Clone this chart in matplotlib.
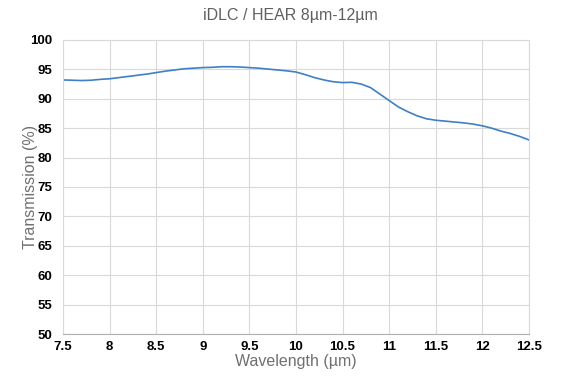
import matplotlib
matplotlib.use("Agg")
from matplotlib import pyplot as plt

wavelength = [7.5, 7.6, 7.7, 7.8, 7.9, 8.0, 8.1, 8.2, 8.3, 8.4, 8.5, 8.6, 8.7, 8.8, 8.9,
              9.0, 9.1, 9.2, 9.3, 9.4, 9.5, 9.6, 9.7, 9.8, 9.9, 10.0, 10.1, 10.2, 10.3,
              10.4, 10.5, 10.6, 10.7, 10.8, 10.9, 11.0, 11.1, 11.2, 11.3, 11.4, 11.5,
              11.6, 11.7, 11.8, 11.9, 12.0, 12.1, 12.2, 12.3, 12.4, 12.5]
transmission = [93.2, 93.15, 93.1, 93.15, 93.3, 93.4, 93.6, 93.8, 94.0, 94.2, 94.45, 94.7,
                94.9, 95.1, 95.2, 95.3, 95.35, 95.45, 95.45, 95.4, 95.3, 95.2, 95.05, 94.9,
                94.75, 94.55, 94.1, 93.6, 93.2, 92.9, 92.75, 92.8, 92.5, 91.9, 90.8, 89.7,
                88.6, 87.8, 87.1, 86.6, 86.35, 86.2, 86.05, 85.9, 85.7, 85.4, 85.0, 84.5,
                84.1, 83.6, 83.0]
xticks = [7.5, 8, 8.5, 9, 9.5, 10, 10.5, 11, 11.5, 12, 12.5]
xtick_labels = ["7.5", "8", "8.5", "9", "9.5", "10", "10.5", "11", "11.5", "12", "12.5"]
yticks = list(range(50, 101, 5))

plt.rcParams['font.family'] = ['Liberation Sans', 'DejaVu Sans']

fig = plt.figure(figsize=(5.81, 3.77), dpi=100)
ax = fig.add_axes([0.1084, 0.114, 0.802, 0.780])

ax.plot(wavelength, transmission, color='#3f7fc6', linewidth=1.2)

ax.set_xlim(7.5, 12.5)
ax.set_ylim(50, 100)
ax.set_xticks(xticks)
ax.set_xticklabels(xtick_labels)
ax.set_yticks(yticks)
ax.grid(True, color='#d9d9d9', linewidth=0.8)
ax.tick_params(length=0, labelsize=9.5, colors='black')
ax.tick_params(axis='y', pad=8)
ax.tick_params(axis='x', pad=5)
for lbl in ax.get_xticklabels() + ax.get_yticklabels():
    lbl.set_fontweight('bold')

for side in ['top', 'left', 'right']:
    ax.spines[side].set_color('#d9d9d9')
    ax.spines[side].set_linewidth(0.8)
ax.spines['bottom'].set_color('#b0b0b0')

ax.set_xlabel('Wavelength (µm)', fontsize=11.5, color='#707070', labelpad=1)
ax.set_ylabel('Transmission (%)', fontsize=11.5, color='#707070', labelpad=-6)
fig.text(0.5, 0.958, 'iDLC / HEAR 8µm-12µm', ha='center', va='center',
         fontsize=11.5, color='#606060')

plt.savefig('out.png', dpi=100)
